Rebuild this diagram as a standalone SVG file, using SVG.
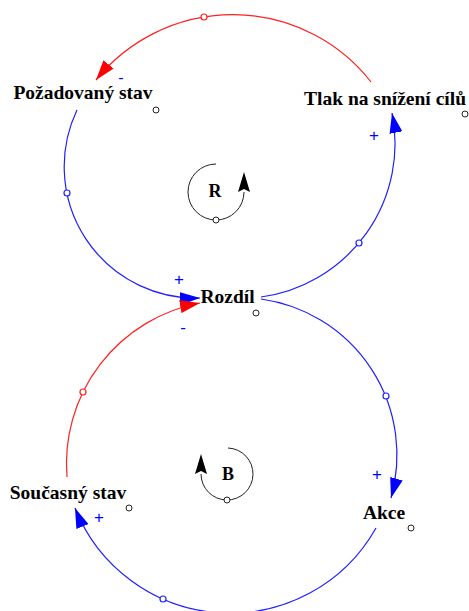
<svg xmlns="http://www.w3.org/2000/svg" width="469" height="611" viewBox="0 0 469 611">
<style>
.lbl{font-family:"Liberation Serif","Times New Roman",serif;font-weight:bold;font-size:19.5px;fill:#000;text-anchor:middle}
.pol{font-family:"Liberation Sans",Arial,sans-serif;font-size:17px;fill:#0000ff;text-anchor:middle}
.red{fill:none;stroke:#ff2020;stroke-width:1.2}
.blue{fill:none;stroke:#2020ff;stroke-width:1.2}
.loop{fill:none;stroke:#222;stroke-width:1}
.hr{fill:#fff;stroke:#ff2020;stroke-width:1.2}
.hb{fill:#fff;stroke:#2020ff;stroke-width:1.2}
.hk{fill:#fff;stroke:#222;stroke-width:1}
</style>
<defs>
<marker id="ar" markerUnits="userSpaceOnUse" markerWidth="20" markerHeight="13" refX="20" refY="6.5" orient="auto"><path d="M0,0 L20,6.5 L0,13 z" fill="#ff0000"/></marker>
<marker id="ab" markerUnits="userSpaceOnUse" markerWidth="20" markerHeight="13" refX="20" refY="6.5" orient="auto"><path d="M0,0 L20,6.5 L0,13 z" fill="#0000ff"/></marker>
<marker id="ak" markerUnits="userSpaceOnUse" markerWidth="20" markerHeight="12" refX="0" refY="6" orient="auto"><path d="M0,0 L20,6 L0,12 L3,6 z" fill="#000"/></marker>
</defs>
<g id="connectors">
<path class="red" d="M371,82 A175.7,175.7 0 0 0 96,80" marker-end="url(#ar)"/>
<circle class="hr" cx="204" cy="17" r="3"/>
<path class="blue" d="M77,110 A131.5,131.5 0 0 0 200,298" marker-end="url(#ab)"/>
<circle class="hb" cx="67" cy="193" r="3"/>
<path class="blue" d="M261,297 A154.9,154.9 0 0 0 392,113" marker-end="url(#ab)"/>
<circle class="hb" cx="359" cy="243" r="3"/>
<path class="red" d="M67,477 A163.6,163.6 0 0 1 200,303" marker-end="url(#ar)"/>
<circle class="hr" cx="83" cy="392" r="3"/>
<path class="blue" d="M261,299 A157.6,157.6 0 0 1 391,498" marker-end="url(#ab)"/>
<circle class="hb" cx="386" cy="396" r="3"/>
<path class="blue" d="M376,528 A167.2,167.2 0 0 1 75,508" marker-end="url(#ab)"/>
<circle class="hb" cx="163" cy="599" r="3"/>
<text class="pol" x="121" y="83" style="font-size:16px">-</text>
<text class="pol" x="374" y="141">+</text>
<text class="pol" x="179" y="285">+</text>
<text class="pol" x="183" y="333">-</text>
<text class="pol" x="377" y="480">+</text>
<text class="pol" x="99" y="523">+</text>
</g>
<g id="node-pozadovany-stav">
<text class="lbl" x="83" y="99">Požadovaný stav</text>
<circle class="hk" cx="156" cy="110" r="3"/>
</g>
<g id="node-tlak">
<text class="lbl" x="385" y="105">Tlak na snížení cílů</text>
<circle class="hk" cx="465" cy="114" r="3"/>
</g>
<g id="node-rozdil">
<text class="lbl" x="227.5" y="303">Rozdíl</text>
<circle class="hk" cx="256" cy="313" r="3"/>
</g>
<g id="node-soucasny-stav">
<text class="lbl" x="68" y="499">Současný stav</text>
<circle class="hk" cx="129" cy="508" r="3"/>
</g>
<g id="node-akce">
<text class="lbl" x="384" y="519">Akce</text>
<circle class="hk" cx="411" cy="528" r="3"/>
</g>
<g id="loop-R">
<path class="loop" d="M216,164 A28,28 0 1 0 244,192" marker-end="url(#ak)"/>
<circle class="hk" cx="216" cy="220" r="3"/>
<text class="lbl" x="215" y="197" style="font-size:18px">R</text>
</g>
<g id="loop-B">
<path class="loop" d="M228,448 A26,26 0 1 1 201,474" marker-end="url(#ak)"/>
<circle class="hk" cx="227" cy="500" r="3"/>
<text class="lbl" x="228" y="480" style="font-size:18px">B</text>
</g>
</svg>
